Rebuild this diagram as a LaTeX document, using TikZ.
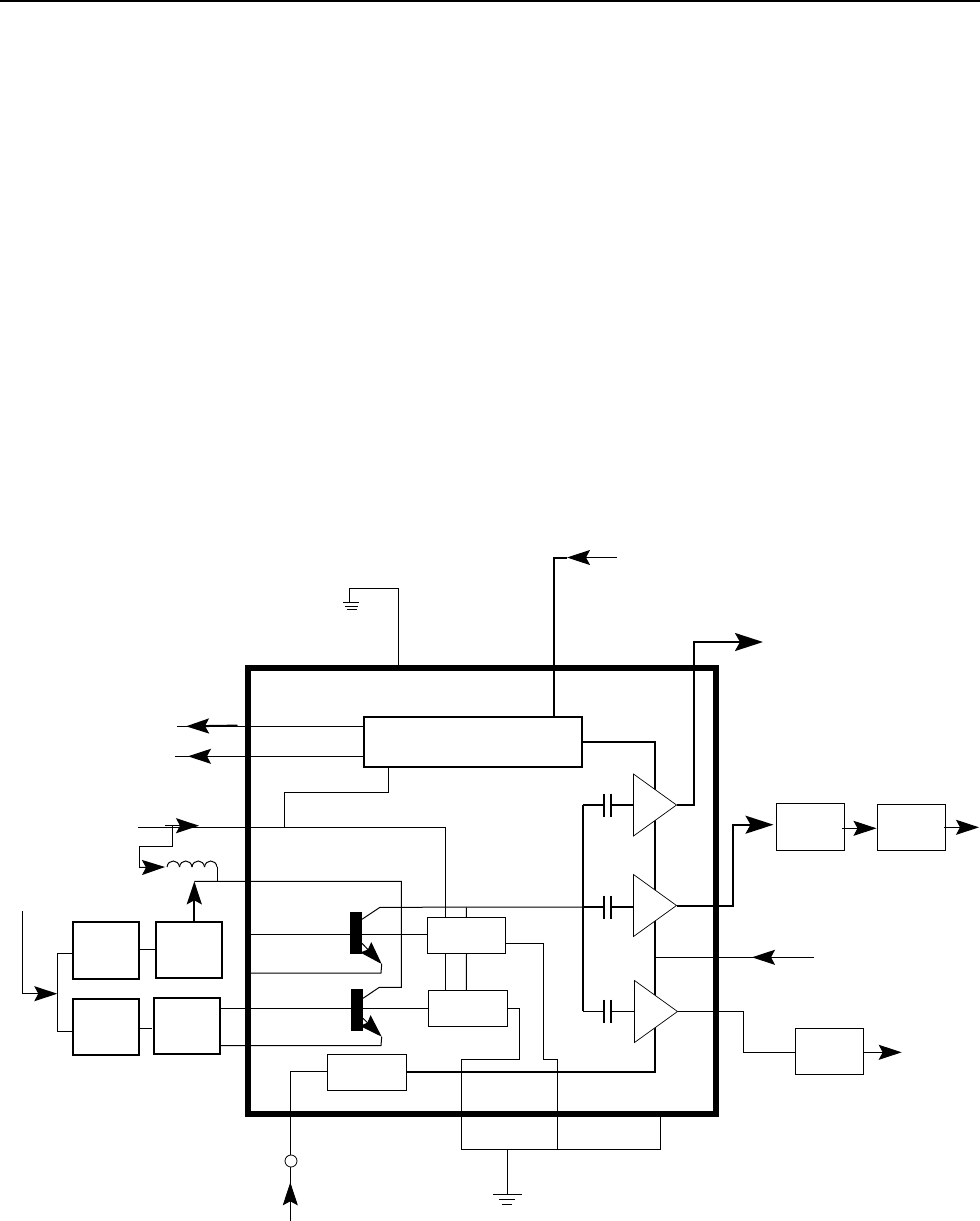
\documentclass[tikz,border=0pt]{standalone}
\usepackage{tikz}
\usetikzlibrary{arrows.meta, positioning, calc, shapes.geometric}

\tikzset{
  wire/.style={line width=1pt},
  buswire/.style={line width=2pt},
  tipsmall/.style={-{Stealth[length=23pt,width=15pt,inset=4pt]}},
  tipbig/.style={-{Stealth[length=28pt,width=18pt,inset=5pt]}},
  tipem/.style={-{Stealth[length=23pt,width=15pt,inset=3pt]}},
  thinbox/.style={draw, line width=1pt, outer sep=0pt, inner sep=0pt},
  thickbox/.style={draw, line width=2pt, outer sep=0pt, inner sep=0pt},
  chipframe/.style={draw, line width=6pt, outer sep=0pt, inner sep=0pt, minimum width=468pt, minimum height=446pt},
  ampbox/.style={draw, fill=white, line width=0.7pt, shape=isosceles triangle, isosceles triangle stretches,
    minimum width=62pt, minimum height=43pt, inner sep=0pt, outer sep=0pt, anchor=apex},
  barbox/.style={fill=black, minimum width=12pt, minimum height=42pt, inner sep=0pt, outer sep=0pt},
  plate/.style={line width=2pt}
}

\begin{document}
\begin{tikzpicture}[x=1pt, y=-1pt]
  \useasboundingbox (0,0) rectangle (980,1221);
  % Page rule
  \coordinate (ruleL) at (0,1);
  \coordinate (ruleR) at (980,1);
  \draw[buswire] (ruleL) -- (ruleR);

  % Blocks inside
  \node[thickbox, minimum width=218pt, minimum height=50pt] (regBox) at (473,742) {};
  \node[thinbox, minimum width=78.5pt, minimum height=36.5pt] (ctrlA) at (466.5,935.3) {};
  \node[thinbox, minimum width=79.5pt, minimum height=36.5pt] (ctrlB) at (468,1008.5) {};
  \node[thinbox, minimum width=79.5pt, minimum height=36pt] (delayBox) at (367,1072.3) {};
  \node[barbox] (barA) at (356,933) {};
  \node[barbox] (barB) at (357,1010) {};

  % Blocks left
  \node[thickbox, minimum width=66pt, minimum height=57pt] (boxA) at (106,950.3) {};
  \node[thickbox, minimum width=66pt, minimum height=56pt] (boxB) at (189,949.8) {};
  \node[thickbox, minimum width=66pt, minimum height=56pt] (boxC) at (106,1027) {};
  \node[thickbox, minimum width=66pt, minimum height=56pt] (boxD) at (187,1025.8) {};

  % Blocks right
  \node[thinbox, minimum width=68pt, minimum height=47pt] (boxG) at (810.3,826.8) {};
  \node[thinbox, minimum width=68pt, minimum height=46pt] (boxH) at (911.3,827.3) {};
  \node[thinbox, minimum width=68pt, minimum height=46pt] (boxI) at (829.3,1051.3) {};

  % Power rail, under the amplifiers
  \coordinate (railEnd) at (655,1072.3);
  \coordinate (railIn) at (655,957.3);
  \coordinate (railFree) at (814,957.3);
  \draw[buswire] (regBox.east) -| (railEnd) -- (delayBox.east);
  \draw[wire, tipsmall] (railFree) -- (752,957.3);
  \draw[wire] (railFree) -- (railIn);

  % Amplifiers
  \node[ampbox] (ampA) at (676.5,805) {};
  \node[ampbox] (ampB) at (676.5,905.5) {};
  \node[ampbox] (ampC) at (677.5,1011.5) {};

  % Capacitors
  \coordinate (busA) at (583,805);
  \coordinate (busB) at (583,907);
  \coordinate (busC) at (583,1011);
  \draw[buswire] (busA) -- (busC);
  \foreach \yy in {805, 907, 1011} {
    \draw[plate] (603.7,\yy-11.5) -- (603.7,\yy+11.5);
    \draw[plate] (611,\yy-11.5) -- (611,\yy+11.5);
  }
  \coordinate (capAl) at (603.7,805);
  \coordinate (capAr) at (611,805);
  \coordinate (capBl) at (603.7,907);
  \coordinate (capBr) at (611,907);
  \coordinate (capCl) at (603.7,1011);
  \coordinate (capCr) at (611,1011);
  \draw[buswire] (busA) -- (capAl);
  \draw[buswire] (capAr) -- (capAr -| ampA.lower side);
  \draw[buswire] (busB) -- (capBl);
  \draw[buswire] (capBr) -- (capBr -| ampB.lower side);
  \draw[wire] (busC) -- (capCl);
  \draw[wire] (capCr) -- (capCr -| ampC.lower side);

  % Amplifier outputs
  \coordinate (outA) at (694,642);
  \coordinate (outAend) at (763,642);
  \coordinate (outB) at (732.7,824.7);
  \coordinate (outBend) at (773.5,824.7);
  \coordinate (outC) at (743.3,1052.3);
  \draw[buswire, tipbig] (ampA.apex) -| (outA) -- (outAend);
  \draw[buswire, tipbig] (ampB.apex) -| (outB) -- (outBend);
  \draw[wire] (ampC.apex) -| (outC) -- (boxI.west |- outC);

  % Right chain
  \coordinate (outGH) at (842,828.3);
  \coordinate (inGH) at (876.5,828.3);
  \coordinate (outH) at (944,827.3);
  \coordinate (outHend) at (979,827.3);
  \coordinate (outIend) at (901.7,1052.3);
  \draw[wire, tipsmall] (outGH) -- (inGH);
  \draw[wire, tipsmall] (outH) -- (outHend);
  \draw[wire, tipsmall] (boxI.east |- outIend) -- (outIend);

  % Top supply
  \coordinate (supFree) at (617,557.5);
  \coordinate (supTip) at (567,557.5);
  \coordinate (supCorner) at (554,557.5);
  \coordinate (supFoot) at (554,717);
  \draw[buswire] (supTip) -- (supCorner) -- (supFoot);
  \draw[wire, tipsmall] (supFree) -- (supTip);

  % Top ground
  \coordinate (chipTop) at (398,665);
  \coordinate (gndCorner) at (398,588);
  \coordinate (gndDrop) at (349.5,602);
  \draw[wire] (chipTop) -- (gndCorner) -| (gndDrop);
  \draw[wire] (343,602) -- (359,602);
  \draw[wire] (345,606.7) -- (358,606.7);
  \draw[wire] (347,609.5) -- (357,609.5);

  % Lines out of the regulator
  \coordinate (leftA) at (177,726.3);
  \coordinate (leftAtip) at (186,726.3);
  \coordinate (leftAbase) at (237.5,725.6);
  \coordinate (leftB) at (175,756.3);
  \coordinate (leftBtip) at (188,756.3);
  \draw[wire] (regBox.west |- leftA) -- (leftA);
  \draw[buswire, tipsmall] (leftAbase) -- (leftAtip);
  \draw[wire] (regBox.west |- leftB) -- (leftB);
  \draw[wire, tipsmall] (215,756.3) -- (leftBtip);

  % Feedback to first control block
  \coordinate (fbDrop) at (388.6,792.7);
  \coordinate (fbCorner) at (284.5,792.7);
  \coordinate (fbLine) at (284.5,827.3);
  \coordinate (fbFree) at (138,827.3);
  \coordinate (fbEnd) at (445.5,827.3);
  \draw[wire] (regBox.south -| fbDrop) -- (fbDrop) -- (fbCorner) -- (fbLine);
  \draw[wire] (fbFree) -- (fbEnd) -- (ctrlA.north -| fbEnd);
  \coordinate (tipIn) at (199,825.7);
  \draw[wire, tipsmall] (165,825.7) -- (tipIn);

  % Inductor
  \coordinate (stubA) at (172.7,825.7);
  \coordinate (stubB) at (139.3,846.3);
  \coordinate (stubC) at (139.3,867.5);
  \coordinate (coilL) at (165,867);
  \coordinate (coilR) at (217,867);
  \coordinate (coilEnd) at (217,881.3);
  \draw[wire] (stubA) |- (stubB) -- (stubC);
  \draw[wire, tipsmall] (stubC) -- (coilL);
  \foreach \xx in {167, 179.5, 192, 204.5} {
    \draw[wire] (\xx,867) .. controls (\xx+1,859) and (\xx+11.5,859) .. (\xx+12.5,867);
  }
  \draw[wire] (coilR) -- (coilEnd);

  % Collector line
  \coordinate (collIn) at (194.3,881.3);
  \coordinate (collR) at (401.3,881.3);
  \coordinate (collD) at (401.3,987.3);
  \coordinate (collK) at (379.3,987.3);
  \draw[wire] (collIn) -- (collR) -- (collD) -- (collK) -- (barB.east |- 0,998.3);
  \draw[buswire, tipsmall] (boxB.north -| collIn) -- (collIn);
  \coordinate (collA) at (380,907.3);
  \draw[wire] (barA.east |- 0,919.3) -- (collA) -- (busB);
  \coordinate (ctrlTie) at (466.3,907.3);
  \draw[wire] (ctrlTie) -- (ctrlA.north);

  % Bases
  \coordinate (baseA) at (250,934.3);
  \draw[wire] (baseA) -- (ctrlA.west |- baseA);
  \coordinate (baseB) at (boxD.east |- 0,1008.3);
  \draw[wire] (baseB) -- (ctrlB.west |- baseB);

  % Emitters
  \coordinate (emA) at (381.7,964);
  \coordinate (emAd) at (381,973);
  \coordinate (emAl) at (250,973);
  \coordinate (emB) at (381.7,1036.7);
  \coordinate (emBd) at (381,1045.5);
  \coordinate (emBl) at (boxD.east |- emBd);
  \draw[wire, tipem] (barA.east |- 0,943.3) -- (emA);
  \draw[wire, tipem] (barB.east |- 0,1018.3) -- (emB);
  \draw[wire] (emA) -- (emAd) -- (emAl);
  \draw[wire] (emB) -- (emBd) -- (emBl);

  % Ties between control blocks
  \draw[wire] (ctrlA.south -| fbEnd) -- (ctrlB.north -| fbEnd);
  \draw[wire] (ctrlA.south) -- (ctrlTie |- ctrlB.north);

  % Return lines to lower ground
  \coordinate (retA) at (543.3,943.3);
  \coordinate (retB) at (543.3,1059.3);
  \coordinate (retC) at (557.3,1059.3);
  \coordinate (retD) at (557.3,1149.3);
  \coordinate (retE) at (519.3,1008.5);
  \coordinate (retF) at (519.3,1059.3);
  \coordinate (retG) at (461.7,1059.3);
  \coordinate (retH) at (461.7,1150);
  \coordinate (retI) at (660,1149.3);
  \coordinate (retJ) at (660,1116);
  \coordinate (gndB) at (507.3,1194.3);
  \draw[wire] (ctrlA.east |- retA) -- (retA) -- (retB) -- (retC) -- (retD);
  \draw[wire] (ctrlB.east) -- (retE) -- (retF) -- (retG) -- (retH);
  \draw[wire] (retH |- retD) -- (retI) -- (retJ);
  \draw[wire] (gndB |- retD) -- (gndB);
  \draw[wire] (493,1194.3) -- (522,1194.3);
  \draw[wire] (499.3,1199.3) -- (515,1199.3);
  \draw[wire] (501.7,1204.3) -- (512.3,1204.3);

  % Left chain
  \coordinate (inFree) at (22.7,911);
  \coordinate (inCorner) at (22.7,993.7);
  \coordinate (inTip) at (57.3,993.7);
  \coordinate (splitA) at (57.3,953.3);
  \coordinate (splitC) at (57.3,1031.7);
  \draw[wire, tipsmall] (inFree) -- (inCorner) -- (inTip);
  \draw[wire] (boxA.west |- splitA) -- (splitA) -- (splitC) -- (boxC.west |- splitC);
  \draw[wire] (boxA.east |- 0,949.3) -- (boxB.west |- 0,949.3);
  \draw[wire] (boxC.east |- 0,1028.3) -- (151.7,1028.3);

  % Delay input and pin
  \coordinate (pinKnee) at (290.3,1071.3);
  \coordinate (pinFree) at (290.3,1220.7);
  \coordinate (pinTip) at (290.3,1182.3);
  \node[circle, draw, fill=white, line width=0.8pt, minimum size=12pt, inner sep=0pt, outer sep=0pt] (pin) at (291,1161) {};
  \draw[wire] (delayBox.west |- pinKnee) -- (pinKnee) -- (pin.north -| pinKnee);
  \draw[wire] (pin.south -| pinKnee) -- (pinFree);
  \draw[wire, tipsmall] (pinFree) -- (pinTip);

  % Chip outline
  \node[chipframe] (chip) at (482,891) {};
\end{tikzpicture}
\end{document}
